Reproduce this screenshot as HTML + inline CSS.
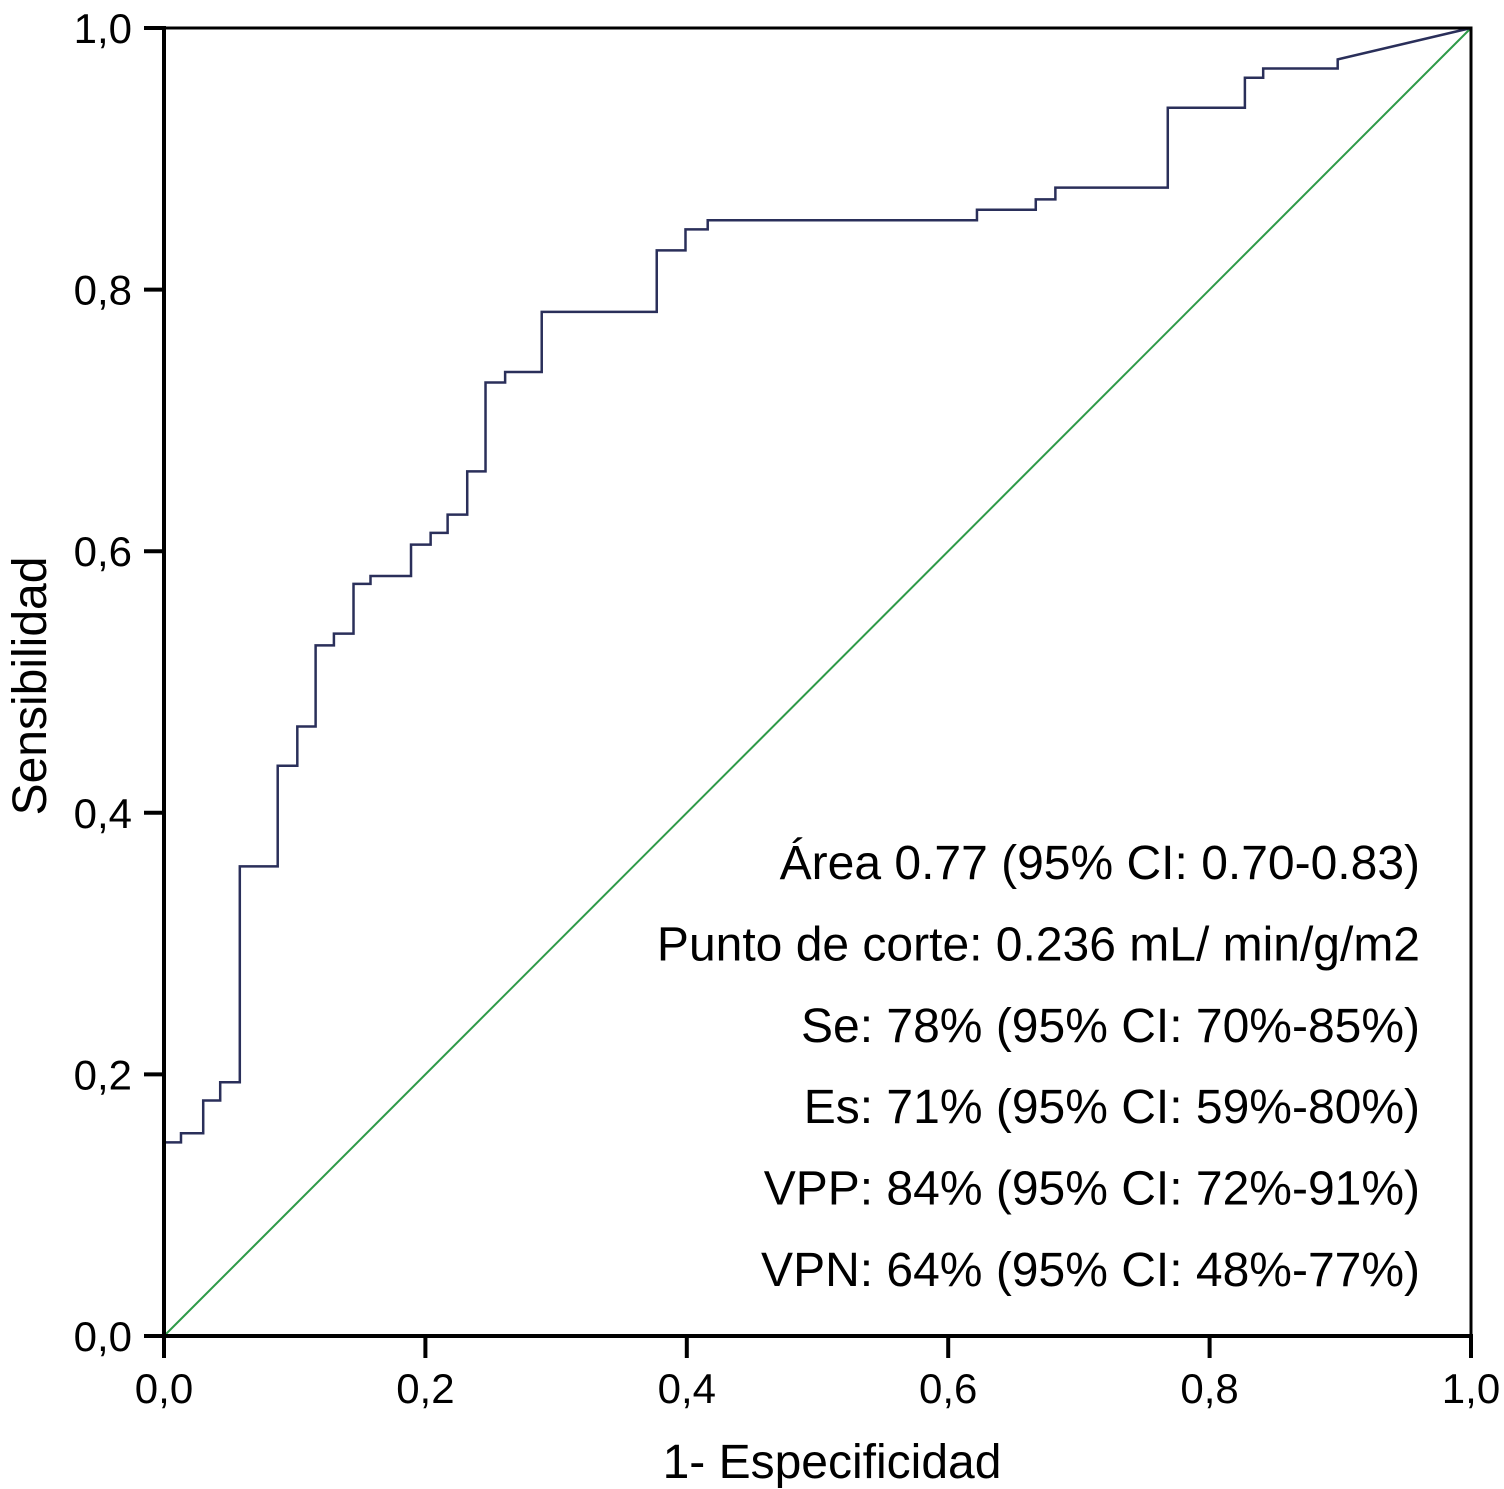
<!DOCTYPE html>
<html><head><meta charset="utf-8"><style>
html,body{margin:0;padding:0;background:#fff;}
svg{display:block;font-family:"Liberation Sans",Arial,sans-serif;}
</style></head><body>
<svg id="chart" width="1504" height="1489" viewBox="0 0 1504 1489" xmlns="http://www.w3.org/2000/svg">
<rect x="0" y="0" width="1504" height="1489" fill="#fff"/>
<g id="plot"></g>
</svg>
<script>
const tickValues = [0, 0.2, 0.4, 0.6, 0.8, 1.0];
const tickLabels = ["0,0", "0,2", "0,4", "0,6", "0,8", "1,0"];
const fpr = [0,0.013,0.030,0.043,0.058,0.087,0.102,0.116,0.130,0.145,0.158,0.189,0.204,0.217,0.232,0.246,0.261,0.289,0.377,0.399,0.416,0.622,0.667,0.682,0.768,0.827,0.841,0.898];
const tpr = [0.148,0.155,0.180,0.194,0.359,0.436,0.466,0.528,0.537,0.575,0.581,0.605,0.614,0.628,0.661,0.729,0.737,0.783,0.830,0.846,0.853,0.861,0.869,0.878,0.939,0.962,0.969,0.976];
const infoLines = ["Área 0.77 (95% CI: 0.70-0.83)","Punto de corte: 0.236 mL/ min/g/m2","Se: 78% (95% CI: 70%-85%)","Es: 71% (95% CI: 59%-80%)","VPP: 84% (95% CI: 72%-91%)","VPN: 64% (95% CI: 48%-77%)"];

const NS = "http://www.w3.org/2000/svg";
const g = document.getElementById("plot");
const X0 = 164, X1 = 1471, Y0 = 1336, Y1 = 28;
const sx = v => X0 + v * (X1 - X0);
const sy = v => Y0 - v * (Y0 - Y1);
function mk(tag, attrs, parent) {
  const e = document.createElementNS(NS, tag);
  for (const k in attrs) e.setAttribute(k, attrs[k]);
  (parent || g).appendChild(e);
  return e;
}

const diag = mk("line", {x1: sx(0), y1: sy(0), x2: sx(1), y2: sy(1), stroke: "#2e9a48", "stroke-width": 2});



let d = "M" + sx(0) + " " + sy(0);
let prev = 0;
for (let i = 0; i < fpr.length; i++) {
  d += " L" + sx(fpr[i]) + " " + sy(prev) + " L" + sx(fpr[i]) + " " + sy(tpr[i]);
  prev = tpr[i];
}
d += " L" + sx(1) + " " + sy(1);
const roc = mk("path", {d: d, fill: "none", stroke: "#2a2f5a", "stroke-width": 2.5});



const frame = mk("rect", {x: X0, y: Y1, width: X1 - X0, height: Y0 - Y1, fill: "none", stroke: "#000", "stroke-width": 3});


const xaxis = mk("line", {x1: X0 - 2, y1: Y0, x2: X1 + 2, y2: Y0, stroke: "#000", "stroke-width": 4});


const yaxis = mk("line", {x1: X0, y1: Y1 - 2, x2: X0, y2: Y0 + 2, stroke: "#000", "stroke-width": 4});



for (let i = 0; i < tickValues.length; i++) {
  const v = tickValues[i];
  const xt = mk("line", {x1: sx(v), y1: Y0, x2: sx(v), y2: Y0 + 22, stroke: "#000", "stroke-width": 4});
  
  
  const xl = mk("text", {x: sx(v), y: 1403, "font-size": 42, "text-anchor": "middle", fill: "#000"});
  xl.textContent = tickLabels[i];
  
  
  const yt = mk("line", {x1: X0 - 20, y1: sy(v), x2: X0, y2: sy(v), stroke: "#000", "stroke-width": 4});
  
  
  const yl = mk("text", {x: 132, y: sy(v) + 15, "font-size": 42, "text-anchor": "end", fill: "#000"});
  yl.textContent = tickLabels[i];
  
  
}

const xt = mk("text", {x: 832, y: 1478, "font-size": 48, "text-anchor": "middle", fill: "#000"});
xt.textContent = "1- Especificidad";


const yt = mk("text", {x: 0, y: 0, "font-size": 48, "text-anchor": "middle", fill: "#000", transform: "translate(46,686) rotate(-90)"});
yt.textContent = "Sensibilidad";



for (let i = 0; i < infoLines.length; i++) {
  const t = mk("text", {x: 1420, y: 879 + i * 81.4, "font-size": 48, "text-anchor": "end", fill: "#000"});
  t.textContent = infoLines[i];
  
  
}
</script>
</body></html>
